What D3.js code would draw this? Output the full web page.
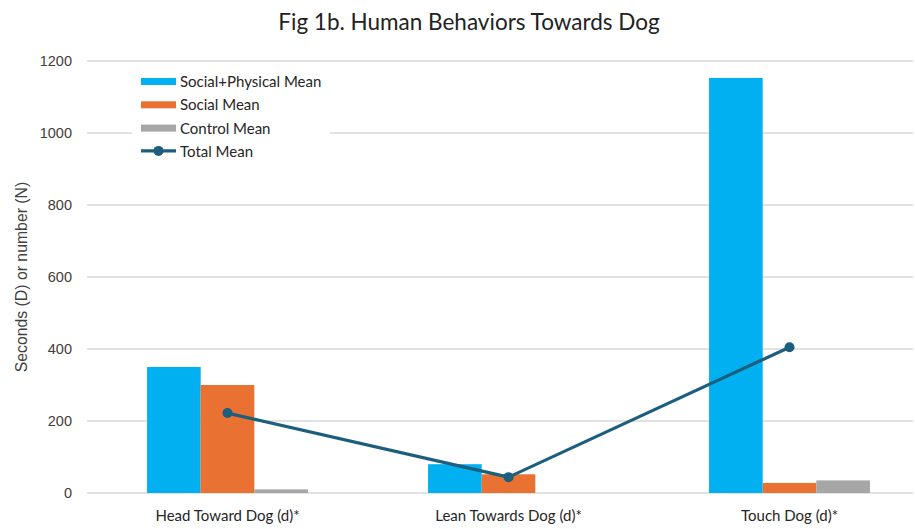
<!DOCTYPE html>
<html>
<head>
<meta charset="utf-8">
<script src="https://cdn.jsdelivr.net/npm/d3@7"></script>
<style>
  html, body { margin: 0; padding: 0; background: #fff; }
  svg { display: block; }
</style>
</head>
<body>
<svg id="chart" width="915" height="529"></svg>
<script>
// Behaviour categories along the x axis
const categories = ["Head Toward Dog (d)*", "Lean Towards Dog (d)*", "Touch Dog (d)*"];
// Bar series (seconds or counts)
const socialPhysicalMean = [350, 80, 1153];
const socialMean = [300, 52, 28];
const controlMean = [10, 0, 35];
// Line series
const totalMean = [222, 44, 405];
// Y axis ticks
const yTicks = [0, 200, 400, 600, 800, 1000, 1200];

const seriesNames = ["Social+Physical Mean", "Social Mean", "Control Mean"];
const seriesColors = ["#00B0F0", "#E97132", "#A6A6A6"];
const lineColor = "#1B5E7E";

const svg = d3.select("#chart");
const plot = { left: 87, right: 913, top: 61, bottom: 493 };

const y = d3.scaleLinear().domain([0, 1200]).range([plot.bottom, plot.top]);
const x = d3.scaleBand().domain(categories).range([plot.left, 930]).paddingInner(0).paddingOuter(0);
const sub = d3.scaleBand().domain(seriesNames).range([0, x.bandwidth()]).paddingInner(0).paddingOuter(1.12);

const labelFont = "Lato, 'Open Sans', sans-serif";
const axisFont = "'Liberation Sans', Arial, sans-serif";

// Title
svg.append("text")
  .attr("x", 469).attr("y", 30)
  .attr("text-anchor", "middle")
  .attr("font-family", labelFont)
  .attr("font-size", 22.5)
  .attr("fill", "#222")
  .text("Fig 1b. Human Behaviors Towards Dog");

// Gridlines
svg.append("g")
  .selectAll("line")
  .data(yTicks)
  .join("line")
  .attr("x1", plot.left).attr("x2", plot.right)
  .attr("y1", d => y(d)).attr("y2", d => y(d))
  .attr("stroke", "#D9D9D9").attr("stroke-width", 1.3);

// Y axis (labels only)
const yAxis = svg.append("g")
  .attr("transform", `translate(${plot.left},0)`)
  .call(d3.axisLeft(y).tickValues(yTicks).tickFormat(d3.format("d")).tickSize(0).tickPadding(15));
yAxis.select(".domain").remove();
yAxis.selectAll("text")
  .attr("font-family", axisFont)
  .attr("font-size", 14.5)
  .attr("fill", "#404040");

// Y axis title
svg.append("text")
  .attr("transform", `translate(27,${(plot.top + plot.bottom) / 2}) rotate(-90)`)
  .attr("text-anchor", "middle")
  .attr("font-family", axisFont)
  .attr("font-size", 15.8)
  .attr("fill", "#404040")
  .text("Seconds (D) or number (N)");

// X axis labels
const xAxis = svg.append("g")
  .attr("transform", `translate(0,${plot.bottom})`)
  .call(d3.axisBottom(x).tickSize(0).tickPadding(17));
xAxis.select(".domain").remove();
xAxis.selectAll("text")
  .attr("font-family", labelFont)
  .attr("font-size", 15)
  .attr("fill", "#262626");

// Bars
const allSeries = [socialPhysicalMean, socialMean, controlMean];
const groups = svg.append("g")
  .selectAll("g")
  .data(categories)
  .join("g")
  .attr("transform", d => `translate(${x(d)},0)`);

groups.selectAll("rect")
  .data((c, i) => seriesNames.map((s, k) => ({ s, k, v: allSeries[k][i] })))
  .join("rect")
  .attr("x", d => sub(d.s))
  .attr("width", sub.bandwidth())
  .attr("y", d => y(d.v))
  .attr("height", d => y(0) - y(d.v))
  .attr("fill", d => seriesColors[d.k]);

// Total mean line
const pts = categories.map((c, i) => [x(c) + x.bandwidth() / 2, y(totalMean[i])]);
svg.append("path")
  .attr("d", d3.line()(pts))
  .attr("fill", "none")
  .attr("stroke", lineColor)
  .attr("stroke-width", 3.2)
  .attr("stroke-linejoin", "round");
svg.append("g")
  .selectAll("circle")
  .data(pts)
  .join("circle")
  .attr("cx", d => d[0]).attr("cy", d => d[1])
  .attr("r", 5).attr("fill", lineColor);

// Legend
const legend = svg.append("g");
legend.append("rect")
  .attr("x", 132).attr("y", 70).attr("width", 198).attr("height", 96)
  .attr("fill", "#fff");
const legendItems = seriesNames.concat(["Total Mean"]);
const li = legend.selectAll("g.item")
  .data(legendItems)
  .join("g")
  .attr("class", "item")
  .attr("transform", (d, i) => `translate(141,${82 + i * 23.3})`);
li.each(function (d, i) {
  const g = d3.select(this);
  if (i < 3) {
    g.append("rect").attr("x", 0).attr("y", -4).attr("width", 35).attr("height", 7)
      .attr("fill", seriesColors[i]);
  } else {
    g.append("line").attr("x1", 0).attr("x2", 35).attr("y1", -1).attr("y2", -1)
      .attr("stroke", lineColor).attr("stroke-width", 3.2);
    g.append("circle").attr("cx", 17.5).attr("cy", -1).attr("r", 5).attr("fill", lineColor);
  }
  g.append("text")
    .attr("x", 39).attr("y", 5)
    .attr("font-family", labelFont)
    .attr("font-size", 15)
    .attr("fill", "#262626")
    .text(d);
});
</script>
</body>
</html>
